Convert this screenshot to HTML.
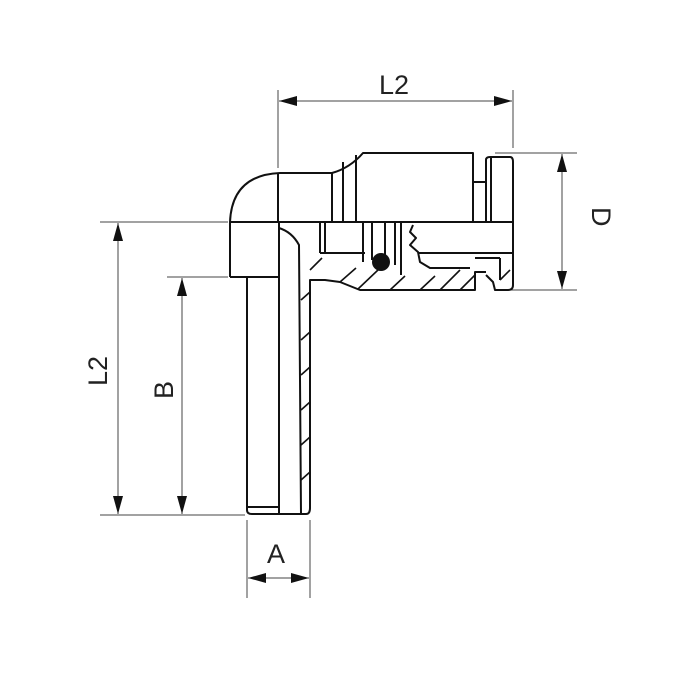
<!DOCTYPE html>
<html><head><meta charset="utf-8"><style>
html,body{margin:0;padding:0;background:#fff;}
svg{display:block}
text{font-family:"Liberation Sans",sans-serif;font-size:27px;fill:#222;}
</style></head><body>
<svg width="693" height="700" viewBox="0 0 693 700">
<g stroke="#444" stroke-width="1" fill="none">
<line x1="278" y1="90" x2="278" y2="168"/><line x1="513" y1="90" x2="513" y2="148"/>
<line x1="279" y1="101" x2="512" y2="101"/>
<line x1="495" y1="153" x2="577" y2="153"/><line x1="495" y1="290" x2="577" y2="290"/>
<line x1="562" y1="154" x2="562" y2="289"/>
<line x1="100" y1="222" x2="228" y2="222"/><line x1="100" y1="515" x2="245" y2="515"/>
<line x1="118" y1="223" x2="118" y2="514"/>
<line x1="167" y1="277" x2="228" y2="277"/>
<line x1="182" y1="278" x2="182" y2="514"/>
<line x1="247" y1="520" x2="247" y2="598"/><line x1="310" y1="520" x2="310" y2="598"/>
<line x1="248" y1="578" x2="309" y2="578"/>
</g>
<g fill="#111">
<polygon points="279,101 297,96 297,106"/><polygon points="512,101 494,96 494,106"/>
<polygon points="562,154 557,172 567,172"/><polygon points="562,289 557,271 567,271"/>
<polygon points="118,223 113,241 123,241"/><polygon points="118,514 113,496 123,496"/>
<polygon points="182,278 177,296 187,296"/><polygon points="182,514 177,496 187,496"/>
<polygon points="248,578 266,573 266,583"/><polygon points="309,578 291,573 291,583"/>
</g>
<text x="379" y="94">L2</text>
<text x="267" y="563">A</text>
<text transform="translate(592,207) rotate(90)">D</text>
<text transform="translate(107,386) rotate(-90)">L2</text>
<text transform="translate(173,399) rotate(-90)">B</text>

<g stroke="#111" stroke-width="2" fill="none" stroke-linejoin="round">
<path d="M230,277 L230,222 Q232,175 280,173 L332,173 Q350,168 363,153 L473,153 L473,182 L486,182 L486,222"/>
<line x1="230" y1="222" x2="513" y2="222"/>
<line x1="230" y1="277" x2="278" y2="277"/>
<line x1="278" y1="173" x2="278" y2="222"/>
<line x1="332" y1="173" x2="332" y2="222"/>
<line x1="343" y1="162" x2="343" y2="222"/>
<line x1="356" y1="155" x2="356" y2="222"/>
<line x1="473" y1="182" x2="473" y2="222"/>
<path d="M486,222 L486,160 Q486,157 490,157 L510,157 Q513,157 513,162 L513,285 Q513,290 508,290 L495,290 L493,282 L486,275"/>
<line x1="491" y1="158" x2="491" y2="222"/>
<path d="M247,277 L247,510 Q247,514 252,514 L306,514 Q310,514 310,508 L310,280 L325,280 L340,282 L360,290 L475,290 L475,272 L486,272"/>
<line x1="279" y1="222" x2="279" y2="514"/>
<line x1="247" y1="507" x2="279" y2="507"/>
<path d="M279,228 Q292,232 299,245 L301,514"/>
<line x1="320" y1="253" x2="365" y2="253"/>
<line x1="320" y1="222" x2="320" y2="253"/>
<line x1="325" y1="222" x2="325" y2="253"/>
<line x1="363" y1="222" x2="363" y2="262"/>
<line x1="372" y1="222" x2="372" y2="260"/>
<line x1="385" y1="222" x2="385" y2="260"/>
<line x1="395" y1="222" x2="395" y2="265"/>
<line x1="401" y1="222" x2="401" y2="275"/>
<path d="M413,225 L410,232 L416,238 L410,245 L418,252 L420,262 L430,268 L470,268"/>
<line x1="418" y1="253" x2="513" y2="253"/>
<line x1="475" y1="258" x2="500" y2="258"/>
<path d="M500,258 L500,280"/>
<g stroke-width="1.6">
<line x1="310" y1="270" x2="322" y2="258"/>
<line x1="340" y1="282" x2="356" y2="268"/>
<line x1="358" y1="289" x2="378" y2="270"/>
<line x1="390" y1="290" x2="405" y2="276"/>
<line x1="420" y1="290" x2="435" y2="276"/>
<line x1="440" y1="290" x2="460" y2="270"/>
<line x1="460" y1="290" x2="475" y2="275"/>
<line x1="301" y1="300" x2="310" y2="292"/>
<line x1="301" y1="340" x2="310" y2="332"/>
<line x1="301" y1="375" x2="310" y2="367"/>
<line x1="301" y1="410" x2="310" y2="402"/>
<line x1="301" y1="445" x2="310" y2="437"/>
<line x1="301" y1="480" x2="310" y2="472"/>
<line x1="500" y1="280" x2="510" y2="270"/>
</g>
</g>
<circle cx="381" cy="262" r="9" fill="#111"/>
</svg>
</body></html>
